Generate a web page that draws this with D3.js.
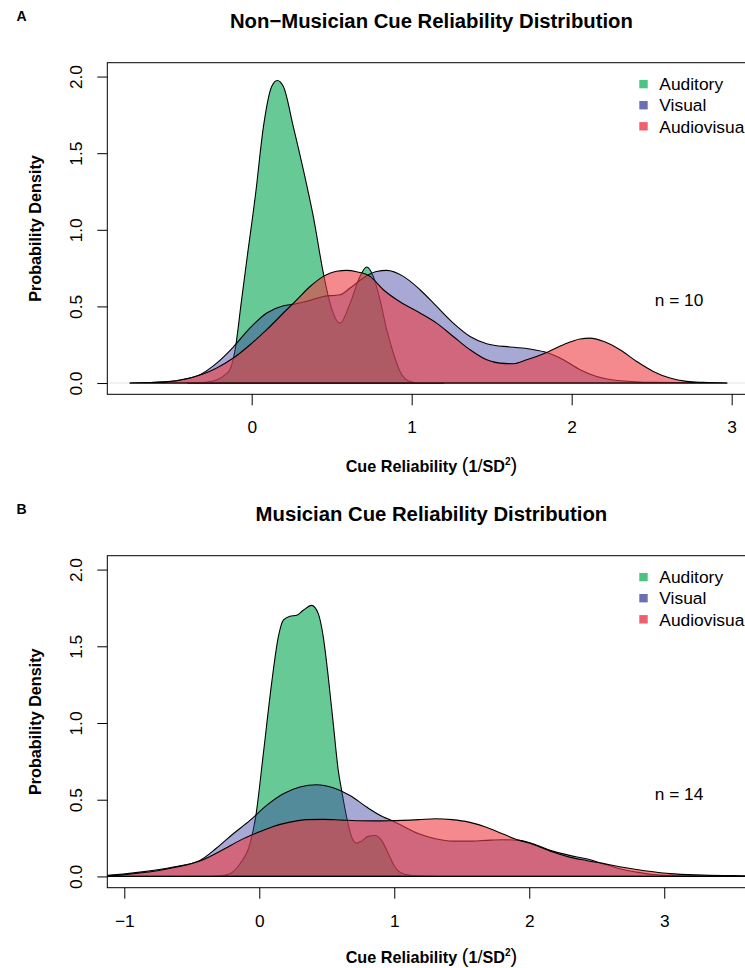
<!DOCTYPE html>
<html>
<head>
<meta charset="utf-8">
<script src="https://cdn.jsdelivr.net/npm/d3@7"></script>
<style>
  html, body { margin: 0; padding: 0; background: #fff; }
  svg { display: block; font-family: "Liberation Sans", Arial, Helvetica, sans-serif; }
</style>
</head>
<body>
<script>
// ---------------- DATA ----------------
const seriesNames = ["Auditory", "Visual", "Audiovisual"];
const yTickValues = [0, 0.5, 1, 1.5, 2];
const xTicksA = [0, 1, 2, 3];
const xTicksB = [-1, 0, 1, 2, 3];
const titleA = "Non\u2212Musician Cue Reliability Distribution";
const titleB = "Musician Cue Reliability Distribution";
const nTextA = "n = 10";
const nTextB = "n = 14";

// Panel A: Non-musicians, density curves [x, density]
const nmAuditory = [[-0.40,0],[-0.30,0.004],[-0.22,0.02],[-0.16,0.06],[-0.135,0.09],[-0.10,0.24],[-0.066,0.52],[-0.031,0.80],
  [0.025,1.24],[0.073,1.67],[0.125,1.935],[0.16,1.974],[0.198,1.935],[0.26,1.674],[0.323,1.391],[0.385,1.087],
  [0.448,0.717],[0.49,0.52],[0.552,0.391],[0.615,0.52],[0.677,0.696],[0.719,0.757],[0.76,0.696],[0.802,0.543],
  [0.844,0.348],[0.885,0.196],[0.927,0.076],[0.99,0.01],[1.05,0.0],[1.2,0]];
const nmVisual = [[-0.76,0],[-0.6,0.005],[-0.45,0.02],[-0.323,0.054],[-0.219,0.13],[-0.115,0.235],[-0.01,0.36],
  [0.094,0.457],[0.198,0.504],[0.265,0.515],[0.35,0.535],[0.448,0.565],[0.552,0.576],[0.615,0.62],[0.719,0.70],
  [0.78,0.728],[0.844,0.735],[0.948,0.696],[1.052,0.609],[1.156,0.5],[1.26,0.391],[1.365,0.304],[1.469,0.257],
  [1.615,0.235],[1.74,0.222],[1.854,0.196],[1.948,0.152],[2.052,0.087],[2.156,0.043],[2.302,0.015],[2.51,0.004],[2.97,0]];
const nmAudiovisual = [[-0.76,0],[-0.6,0.004],[-0.45,0.018],[-0.385,0.033],[-0.3,0.06],[-0.219,0.098],[-0.115,0.163],
  [-0.01,0.25],[0.094,0.348],[0.198,0.457],[0.281,0.543],[0.365,0.63],[0.448,0.696],[0.531,0.73],[0.594,0.735],
  [0.656,0.726],[0.74,0.696],[0.823,0.609],[0.927,0.53],[1.052,0.457],[1.156,0.391],[1.26,0.304],[1.365,0.217],
  [1.469,0.152],[1.552,0.13],[1.635,0.126],[1.719,0.152],[1.844,0.2],[1.948,0.25],[2.052,0.287],[2.115,0.293],
  [2.198,0.272],[2.302,0.217],[2.406,0.141],[2.51,0.076],[2.615,0.033],[2.719,0.011],[2.823,0.004],[2.97,0]];

// Panel B: Musicians
const muAuditory = [[-0.35,0],[-0.242,0.01],[-0.143,0.083],[-0.069,0.213],[-0.027,0.387],[0.03,0.80],[0.091,1.257],
  [0.141,1.561],[0.178,1.67],[0.227,1.696],[0.277,1.702],[0.326,1.735],[0.388,1.767],[0.437,1.713],[0.474,1.561],
  [0.511,1.30],[0.548,0.996],[0.585,0.691],[0.61,0.561],[0.647,0.387],[0.684,0.257],[0.721,0.217],[0.758,0.23],
  [0.807,0.261],[0.857,0.267],[0.906,0.235],[0.956,0.148],[1.005,0.061],[1.067,0.017],[1.165,0.004],[1.3,0]];
const muVisual = [[-1.3,0],[-1.126,0.007],[-0.884,0.028],[-0.637,0.061],[-0.44,0.104],[-0.316,0.185],[-0.193,0.278],
  [-0.069,0.365],[0.054,0.463],[0.178,0.539],[0.301,0.583],[0.425,0.598],[0.548,0.578],[0.672,0.528],[0.795,0.452],
  [0.919,0.387],[0.98,0.365],[1.181,0.278],[1.305,0.246],[1.429,0.23],[1.553,0.23],[1.677,0.235],[1.801,0.239],
  [1.926,0.235],[2.025,0.213],[2.174,0.165],[2.298,0.137],[2.422,0.115],[2.546,0.083],[2.67,0.05],[2.794,0.028],
  [2.918,0.013],[3.166,0.004],[3.6,0.0],[3.9,0]];
const muAudiovisual = [[-1.3,0],[-1.126,0.004],[-0.884,0.022],[-0.637,0.057],[-0.44,0.1],[-0.267,0.175],[-0.143,0.235],
  [-0.02,0.283],[0.104,0.326],[0.227,0.354],[0.351,0.37],[0.474,0.372],[0.598,0.368],[0.721,0.363],[0.844,0.362],
  [0.968,0.363],[1.181,0.37],[1.305,0.376],[1.429,0.37],[1.553,0.354],[1.677,0.322],[1.801,0.278],[1.926,0.235],
  [2.025,0.21],[2.174,0.159],[2.298,0.126],[2.422,0.104],[2.546,0.085],[2.67,0.063],[2.794,0.045],[2.918,0.03],
  [3.042,0.018],[3.29,0.009],[3.6,0.004],[3.9,0]];

// ---------------- STYLE ----------------
const fillColors = ["rgba(0,165,80,0.6)", "rgba(60,64,160,0.45)", "rgba(237,60,67,0.6)"];
const legendColors = ["#4cc283", "#6b6fb5", "#f0606a"];

const W = 745, H = 968;
const svg = d3.select("body").append("svg").attr("width", W).attr("height", H);

const panels = [
  { id: "A", tag: "A", title: titleA, n: nTextA, xTicks: xTicksA, series: [nmAuditory, nmVisual, nmAudiovisual],
    box: { left: 107.3, right: 755.5, top: 62.7, bottom: 394.3 }, xDomain: [-0.9025, 3.149], xLabelOffset: 77.2 },
  { id: "B", tag: "B", title: titleB, n: nTextB, xTicks: xTicksB, series: [muAuditory, muVisual, muAudiovisual],
    box: { left: 107.3, right: 755.5, top: 555.7, bottom: 887.7 }, xDomain: [-1.126, 3.676], xLabelOffset: 75.4 }
];
const yDomain = [-0.0735, 2.0905];

panels.forEach(p => {
  const b = p.box;
  const x = d3.scaleLinear().domain(p.xDomain).range([b.left, b.right]);
  const y = d3.scaleLinear().domain(yDomain).range([b.bottom, b.top]);
  const g = svg.append("g");

  // panel tag
  g.append("text").attr("x", 16.5).attr("y", b.top - 41.5)
    .attr("font-size", 14).attr("font-weight", "bold").text(p.tag);
  // title
  g.append("text").attr("x", (b.left + b.right) / 2).attr("y", b.top - 35)
    .attr("text-anchor", "middle").attr("font-size", 20.3).attr("font-weight", "bold").text(p.title);

  // clip
  const clipId = "clip" + p.id;
  svg.append("clipPath").attr("id", clipId).append("rect")
    .attr("x", b.left).attr("y", b.top).attr("width", b.right - b.left).attr("height", b.bottom - b.top);

  const plot = g.append("g").attr("clip-path", `url(#${clipId})`);
  // light zero line
  plot.append("line").attr("x1", b.left).attr("x2", b.right).attr("y1", y(0)).attr("y2", y(0))
    .attr("stroke", "#e3e3e3").attr("stroke-width", 1);

  const area = d3.area().x(d => x(d[0])).y0(y(0)).y1(d => y(d[1])).curve(d3.curveMonotoneX);
  p.series.forEach((s, i) => {
    plot.append("path").datum(s).attr("d", area)
      .attr("fill", fillColors[i]).attr("stroke", "#000").attr("stroke-width", 1.1)
      .attr("stroke-linejoin", "round");
  });

  // box
  g.append("rect").attr("x", b.left).attr("y", b.top).attr("width", b.right - b.left).attr("height", b.bottom - b.top)
    .attr("fill", "none").attr("stroke", "#000").attr("stroke-width", 1);

  // x axis
  const xa = g.append("g").attr("transform", `translate(0,${b.bottom})`)
    .call(d3.axisBottom(x).tickValues(p.xTicks).tickSize(11).tickFormat(d3.format("d")));
  xa.select(".domain").remove();
  xa.selectAll("line").attr("stroke", "#000");
  xa.selectAll("text").attr("y", 39).attr("dy", 0).attr("font-size", 17.3)
    .attr("font-family", "Liberation Sans, Arial, sans-serif").attr("fill", "#000");

  // y axis
  const ya = g.append("g").attr("transform", `translate(${b.left},0)`)
    .call(d3.axisLeft(y).tickValues(yTickValues).tickSize(10).tickFormat(d3.format(".1f")));
  ya.select(".domain").remove();
  ya.selectAll("line").attr("stroke", "#000");
  ya.selectAll("text").attr("x", 0).attr("y", 0).attr("dy", 0)
    .attr("transform", "translate(-25,0) rotate(-90)").attr("text-anchor", "middle")
    .attr("font-size", 17.3).attr("font-family", "Liberation Sans, Arial, sans-serif").attr("fill", "#000");

  // y label
  g.append("text").attr("transform", `translate(41,${(b.top + b.bottom) / 2}) rotate(-90)`)
    .attr("text-anchor", "middle").attr("font-size", 16.2).attr("font-weight", "bold").text("Probability Density");

  // x label
  const xl = g.append("text").attr("x", (b.left + b.right) / 2).attr("y", b.bottom + p.xLabelOffset)
    .attr("text-anchor", "middle").attr("font-size", 16.2).attr("font-weight", "bold");
  xl.append("tspan").text("Cue Reliability ");
  xl.append("tspan").attr("font-weight", "normal").attr("font-size", 20).text("(");
  xl.append("tspan").text("1");
  xl.append("tspan").attr("font-weight", "normal").attr("font-size", 18).text("/");
  xl.append("tspan").text("SD");
  xl.append("tspan").attr("font-size", 10).attr("dy", -7).text("2");
  xl.append("tspan").attr("font-weight", "normal").attr("font-size", 20).attr("dy", 7).text(")");

  // legend
  const lg = g.append("g");
  seriesNames.forEach((name, i) => {
    const cy = b.top + 21.4 + i * 21.1;
    lg.append("rect").attr("x", 639.3).attr("y", cy - 4.2).attr("width", 8.4).attr("height", 8.4)
      .attr("fill", legendColors[i]);
    lg.append("text").attr("x", 659.3).attr("y", cy + 6.2).attr("font-size", 17.4).text(name);
  });

  // n text
  g.append("text").attr("x", 679).attr("y", y(0.5)).attr("text-anchor", "middle")
    .attr("font-size", 17.3).text(p.n);
});
</script>
</body>
</html>
